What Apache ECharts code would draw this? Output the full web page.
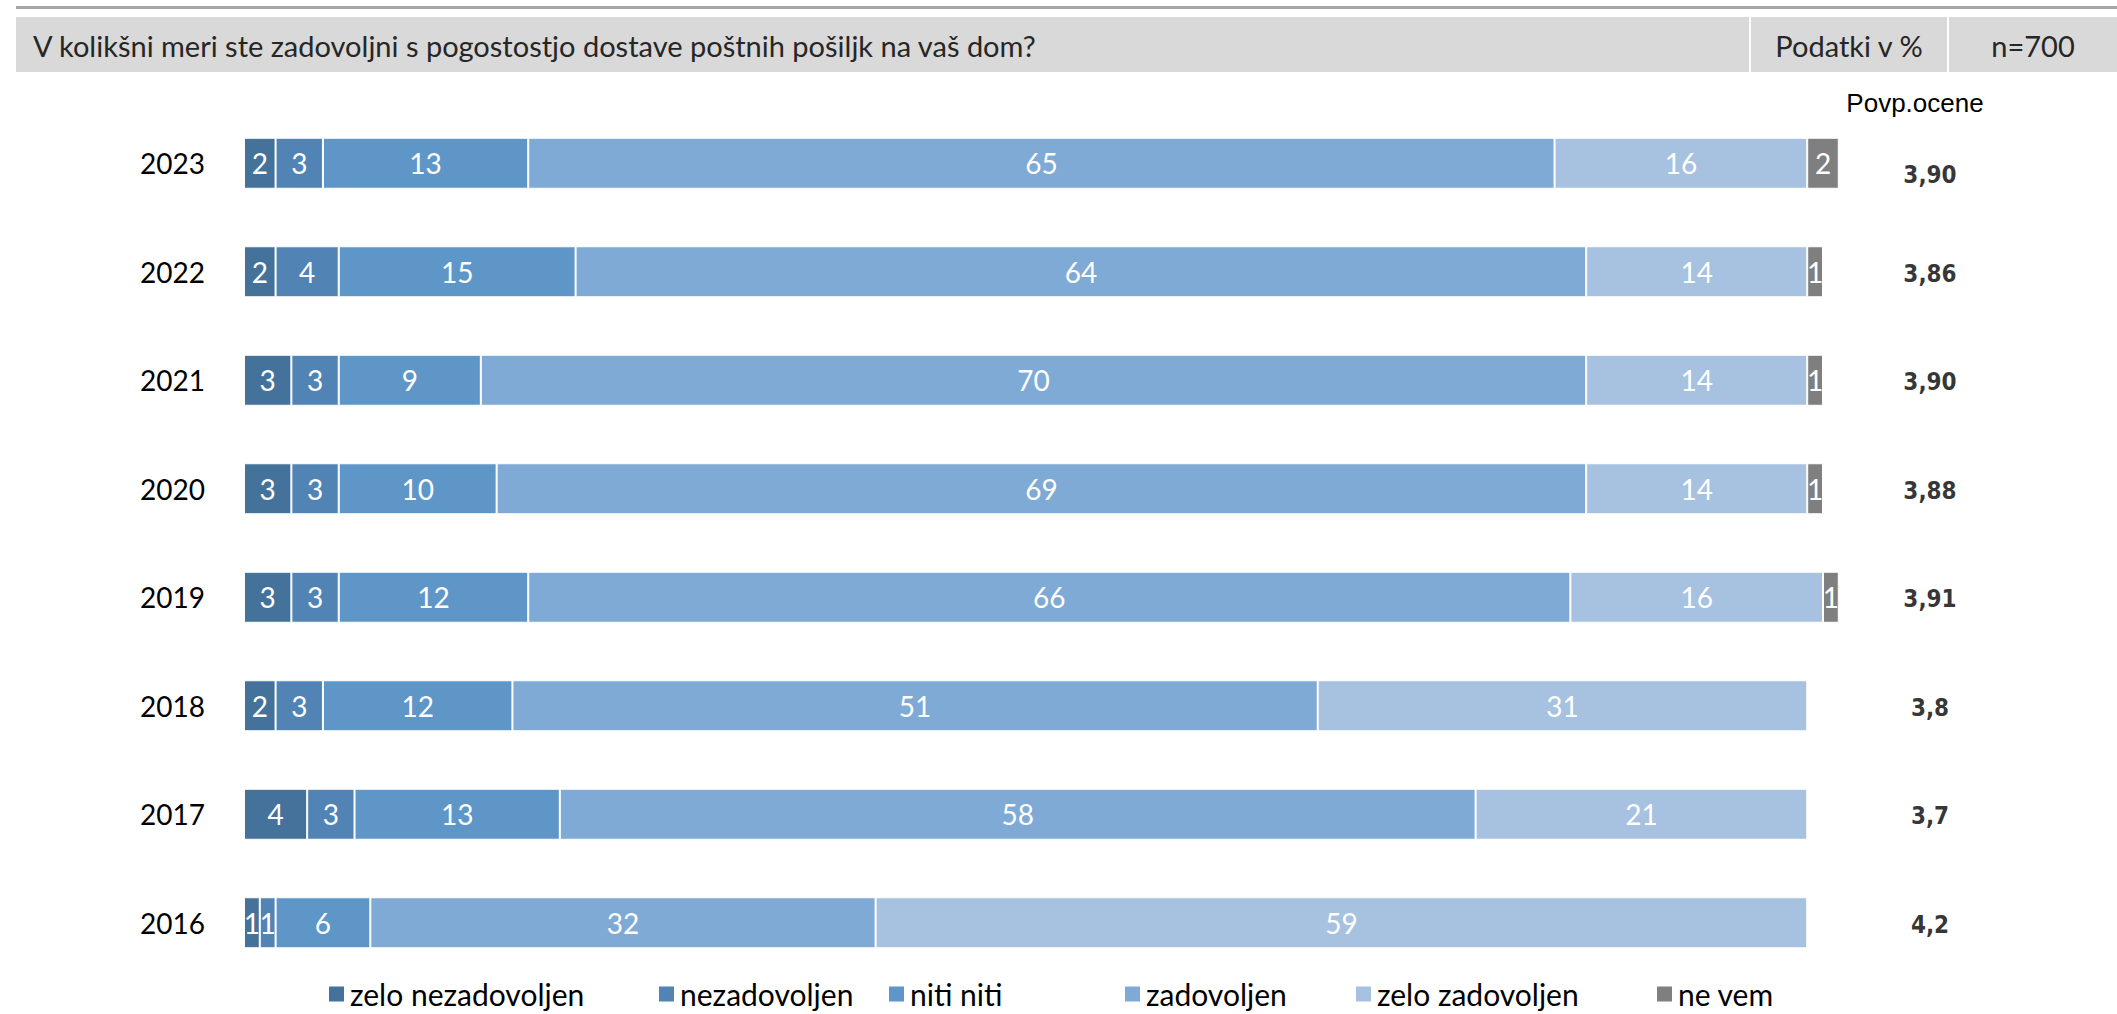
<!DOCTYPE html>
<html>
<head>
<meta charset="utf-8">
<title>Zadovoljstvo s pogostostjo dostave</title>
<script src="https://cdn.jsdelivr.net/npm/echarts@6/dist/echarts.min.js"></script>
<style>
  html, body { margin: 0; padding: 0; background: #ffffff; }
  #chart { width: 2117px; height: 1014px; }
</style>
</head>
<body>
<div id="chart"></div>
<script>
// Years shown top to bottom
const years = ['2023', '2022', '2021', '2020', '2019', '2018', '2017', '2016'];

// Answer categories (legend order)
const answers = ['zelo nezadovoljen', 'nezadovoljen', 'niti niti', 'zadovoljen', 'zelo zadovoljen', 'ne vem'];

// Shares in % per answer, one value per year (same order as years)
const zeloNezadovoljen = [2, 2, 3, 3, 3, 2, 4, 1];
const nezadovoljen     = [3, 4, 3, 3, 3, 3, 3, 1];
const nitiNiti         = [13, 15, 9, 10, 12, 12, 13, 6];
const zadovoljen       = [65, 64, 70, 69, 66, 51, 58, 32];
const zeloZadovoljen   = [16, 14, 14, 14, 16, 31, 21, 59];
const neVem            = [2, 1, 1, 1, 1, null, null, null];

// Average scores per year
const averages = ['3,90', '3,86', '3,90', '3,88', '3,91', '3,8', '3,7', '4,2'];

const seriesValues = [zeloNezadovoljen, nezadovoljen, nitiNiti, zadovoljen, zeloZadovoljen, neVem];
const colors = ['#44729a', '#5183b4', '#5f96c8', '#7eaad5', '#a7c1e0', '#7f7f7f'];

const FONT = 'Lato, "Open Sans", sans-serif';
const BOLD_FONT = '"DejaVu Sans Condensed", "Noto Sans", sans-serif';

const chart = echarts.init(document.getElementById('chart'), null, { renderer: 'svg' });

const barSeries = answers.map((name, i) => ({
  name: name,
  type: 'bar',
  stack: 'total',
  barWidth: 51,
  clip: false,
  data: seriesValues[i],
  itemStyle: { color: colors[i], borderColor: '#ffffff', borderWidth: 1 },
  label: {
    show: true,
    position: 'inside',
    color: '#ffffff',
    fontFamily: FONT,
    fontSize: 28,
    formatter: p => (p.value == null ? '' : String(p.value))
  },
  emphasis: { disabled: true }
}));

// Average score column to the right of the bars, one text per year row
const averageSeries = {
  name: 'Povp.ocene',
  type: 'scatter',
  symbolSize: 0,
  silent: true,
  clip: false,
  data: averages.map((a, i) => ({
    value: [100, years[i]],
    label: { offset: [107, i === 0 ? 12 : 2] }
  })),
  label: {
    show: true,
    position: 'inside',
    fontFamily: BOLD_FONT,
    fontSize: 24,
    fontWeight: 'bold',
    color: '#000000',
    formatter: p => averages[p.dataIndex]
  },
  emphasis: { disabled: true }
};

// One legend block per answer, spaced like the original layout
const legendLefts = [327, 657, 887, 1123, 1354, 1655];
const legends = answers.map((name, i) => ({
  data: [name],
  left: legendLefts[i],
  top: 979,
  padding: 0,
  icon: 'rect',
  itemWidth: 17,
  itemHeight: 17,
  itemGap: 0,
  selectedMode: false,
  textStyle: { fontFamily: FONT, fontSize: 30, color: '#000000' }
}));

chart.setOption({
  animation: false,
  backgroundColor: '#ffffff',
  legend: legends,
  grid: { left: 244, right: 294, top: 109, height: 868, containLabel: false },
  xAxis: {
    type: 'value',
    min: 0,
    max: 100,
    show: false
  },
  yAxis: {
    type: 'category',
    data: years,
    inverse: true,
    axisLine: { show: false },
    axisTick: { show: false },
    splitLine: { show: false },
    axisLabel: { fontFamily: FONT, fontSize: 28, color: '#000000', margin: 39 }
  },
  series: barSeries.concat([averageSeries]),
  graphic: [
    // top rule
    { type: 'rect', shape: { x: 16, y: 6, width: 2101, height: 3 }, style: { fill: '#a6a6a6' }, silent: true },
    // header band
    { type: 'rect', shape: { x: 16, y: 17, width: 2101, height: 55 }, style: { fill: '#d9d9d9' }, silent: true },
    { type: 'rect', shape: { x: 1749, y: 17, width: 2, height: 55 }, style: { fill: '#ffffff' }, silent: true },
    { type: 'rect', shape: { x: 1947, y: 17, width: 2, height: 55 }, style: { fill: '#ffffff' }, silent: true },
    {
      type: 'text', x: 33, y: 45, silent: true,
      style: { text: 'V kolikšni meri ste zadovoljni s pogostostjo dostave poštnih pošiljk na vaš dom?',
               fontFamily: FONT, fontSize: 29, fill: '#262626', verticalAlign: 'middle' }
    },
    {
      type: 'text', x: 1849, y: 45, silent: true,
      style: { text: 'Podatki v %', fontFamily: FONT, fontSize: 29, fill: '#262626',
               align: 'center', verticalAlign: 'middle' }
    },
    {
      type: 'text', x: 2033, y: 45, silent: true,
      style: { text: 'n=700', fontFamily: FONT, fontSize: 29, fill: '#262626',
               align: 'center', verticalAlign: 'middle' }
    },
    {
      type: 'text', x: 1915, y: 103, silent: true,
      style: { text: 'Povp.ocene', fontFamily: '"Liberation Sans", Arial, sans-serif',
               fontSize: 26, fill: '#000000', align: 'center', verticalAlign: 'middle' }
    }
  ]
});
</script>
</body>
</html>
